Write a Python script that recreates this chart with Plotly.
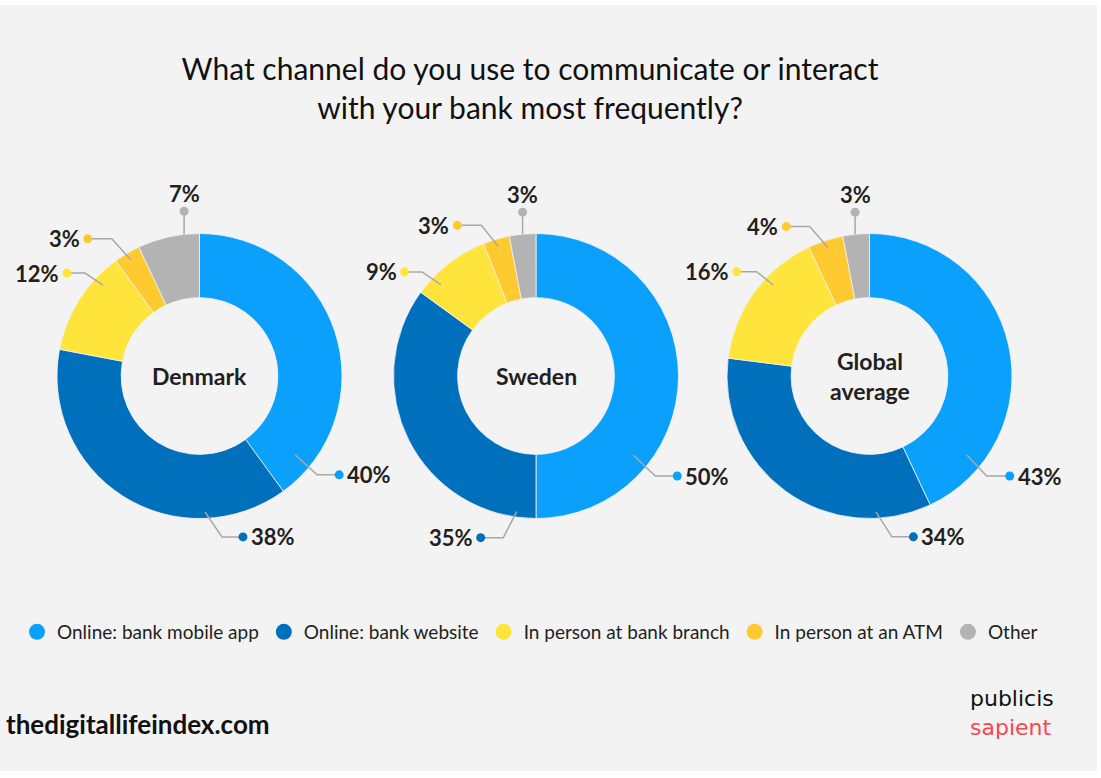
import math
import plotly.graph_objects as go

# ---- data ----
CHANNELS = ["Online: bank mobile app", "Online: bank website",
            "In person at bank branch", "In person at an ATM", "Other"]
REGIONS = ["Denmark", "Sweden", "Global<br>average"]
DENMARK = [40, 38, 12, 3, 7]
SWEDEN = [50, 35, 9, 3, 3]
GLOBAL_AVG = [43, 34, 16, 4, 3]
TITLE = "What channel do you use to communicate or interact<br>with your bank most frequently?"

# ---- styling / layout ----
W, H = 1101, 778
BG = "#f3f3f3"
COLORS = ["#0aa0fc", "#0070bc", "#ffe53b", "#ffca30", "#b3b3b3"]
FONT = "Lato"
INK = "#231f20"
LEADER = "#a8a8a8"
CENTERS_X = [199.5, 536.0, 869.5]
CENTER_Y = 376.0
RADIUS = 142.5
HOLE = 0.55

# callout geometry per slice: (anchor angle deg clockwise from 12 o'clock or "mid",
# anchor radius px, elbow dx, elbow dy, horizontal run px)
CALLOUTS = [
    [(129.5, 124, 22, 20, 22), (177.7, 136, 17, 25, 21), (313.3, 132.6, -18, -12, -18),
     ("mid", 135, -19, -21, -24), (353.8, 142.5, 0, -23, 0)],
    [(129.1, 125.3, 22, 21, 22), (188.1, 137, -13.4, 26, -22.6), (313.8, 131.6, -19, -13, -17.5),
     ("mid", 135, -17, -21, -24), ("mid", 142.5, 0, -22, 0)],
    [(129.1, 125.3, 20, 21, 23), (177.3, 136, 16, 25, 21.5), (313.4, 132.4, -16.6, -13.3, -20),
     ("mid", 135, -18, -21, -23.5), (354.2, 142.5, 0, -22, 0)],
]


def fx(px):
    return px / W


def fy(py):
    return 1 - py / H


fig = go.Figure()
shapes = [dict(type="rect", xref="paper", yref="paper", x0=0, x1=fx(1097), y0=fy(771), y1=fy(5),
               fillcolor=BG, line=dict(width=0), layer="below")]
annotations = []

for region, vals, cx, callouts in zip(REGIONS, [DENMARK, SWEDEN, GLOBAL_AVG], CENTERS_X, CALLOUTS):
    fig.add_trace(go.Pie(
        values=vals, labels=CHANNELS, sort=False, direction="clockwise", rotation=0,
        hole=HOLE, textinfo="none", showlegend=False, hoverinfo="label+percent",
        marker=dict(colors=COLORS, line=dict(color=BG, width=0.8)),
        domain=dict(x=[fx(cx - RADIUS), fx(cx + RADIUS)],
                    y=[fy(CENTER_Y + RADIUS), fy(CENTER_Y - RADIUS)]),
    ))
    annotations.append(dict(x=fx(cx), y=fy(CENTER_Y), xref="paper", yref="paper", text=region,
                            showarrow=False, xanchor="center", yanchor="middle",
                            font=dict(family=FONT, size=23, color=INK, weight="bold")))

    total = sum(vals)
    start = 0.0
    for v, color, (ang, r, edx, edy, run) in zip(vals, COLORS, callouts):
        span = 360.0 * v / total
        if ang == "mid":
            ang = start + span / 2
        start += span
        t = math.radians(ang)
        ax, ay = cx + r * math.sin(t), CENTER_Y - r * math.cos(t)
        ex, ey = ax + edx, ay + edy
        dx, dy = ex + run, ey
        shapes.append(dict(type="path", xref="paper", yref="paper", layer="above",
                           path=f"M {fx(ax)},{fy(ay)} L {fx(ex)},{fy(ey)} L {fx(dx)},{fy(dy)}",
                           line=dict(color=LEADER, width=1.5)))
        dr = 4.5
        shapes.append(dict(type="circle", xref="paper", yref="paper", layer="above",
                           x0=fx(dx - dr), x1=fx(dx + dr), y0=fy(dy + dr), y1=fy(dy - dr),
                           fillcolor=color, line=dict(width=0)))
        if run > 0:
            pos = dict(x=fx(dx + 6), y=fy(dy), xanchor="left", yanchor="middle")
        elif run < 0:
            pos = dict(x=fx(dx - 6), y=fy(dy), xanchor="right", yanchor="middle")
        else:
            pos = dict(x=fx(dx), y=fy(dy - 18), xanchor="center", yanchor="middle")
        annotations.append(dict(xref="paper", yref="paper", text=f"{v}%", showarrow=False,
                                font=dict(family=FONT, size=22, color=INK, weight="bold"), **pos))

# legend entries as circle markers
for name, color in zip(CHANNELS, COLORS):
    fig.add_trace(go.Scatter(x=[None], y=[None], mode="markers", name=name,
                             marker=dict(size=16, color=color, symbol="circle")))

annotations += [
    dict(x=fx(4), y=fy(724), xref="paper", yref="paper", text="thedigitallifeindex.com",
         showarrow=False, xanchor="left", yanchor="middle",
         font=dict(family=FONT, size=26, color="#111111", weight="bold")),
    dict(x=fx(1056), y=fy(713), xref="paper", yref="paper",
         text="publicis<br><span style='color:#fc4451'>sapient</span>",
         showarrow=False, xanchor="right", yanchor="middle", align="left",
         font=dict(family="DejaVu Sans", size=22, color="#111111")),
]

fig.update_layout(
    width=W, height=H, margin=dict(l=0, r=0, t=0, b=0),
    paper_bgcolor="white", plot_bgcolor="rgba(0,0,0,0)",
    title=dict(text=TITLE, x=fx(530), xanchor="center", y=fy(80), yanchor="middle",
               font=dict(family=FONT, size=30, color="#111111")),
    xaxis=dict(visible=False), yaxis=dict(visible=False),
    legend=dict(orientation="h", x=fx(17), xanchor="left", y=fy(632), yanchor="middle",
                bgcolor="rgba(0,0,0,0)", font=dict(family=FONT, size=19, color=INK),
                itemsizing="trace"),
    shapes=shapes, annotations=annotations,
)

fig.write_html("out.html")
